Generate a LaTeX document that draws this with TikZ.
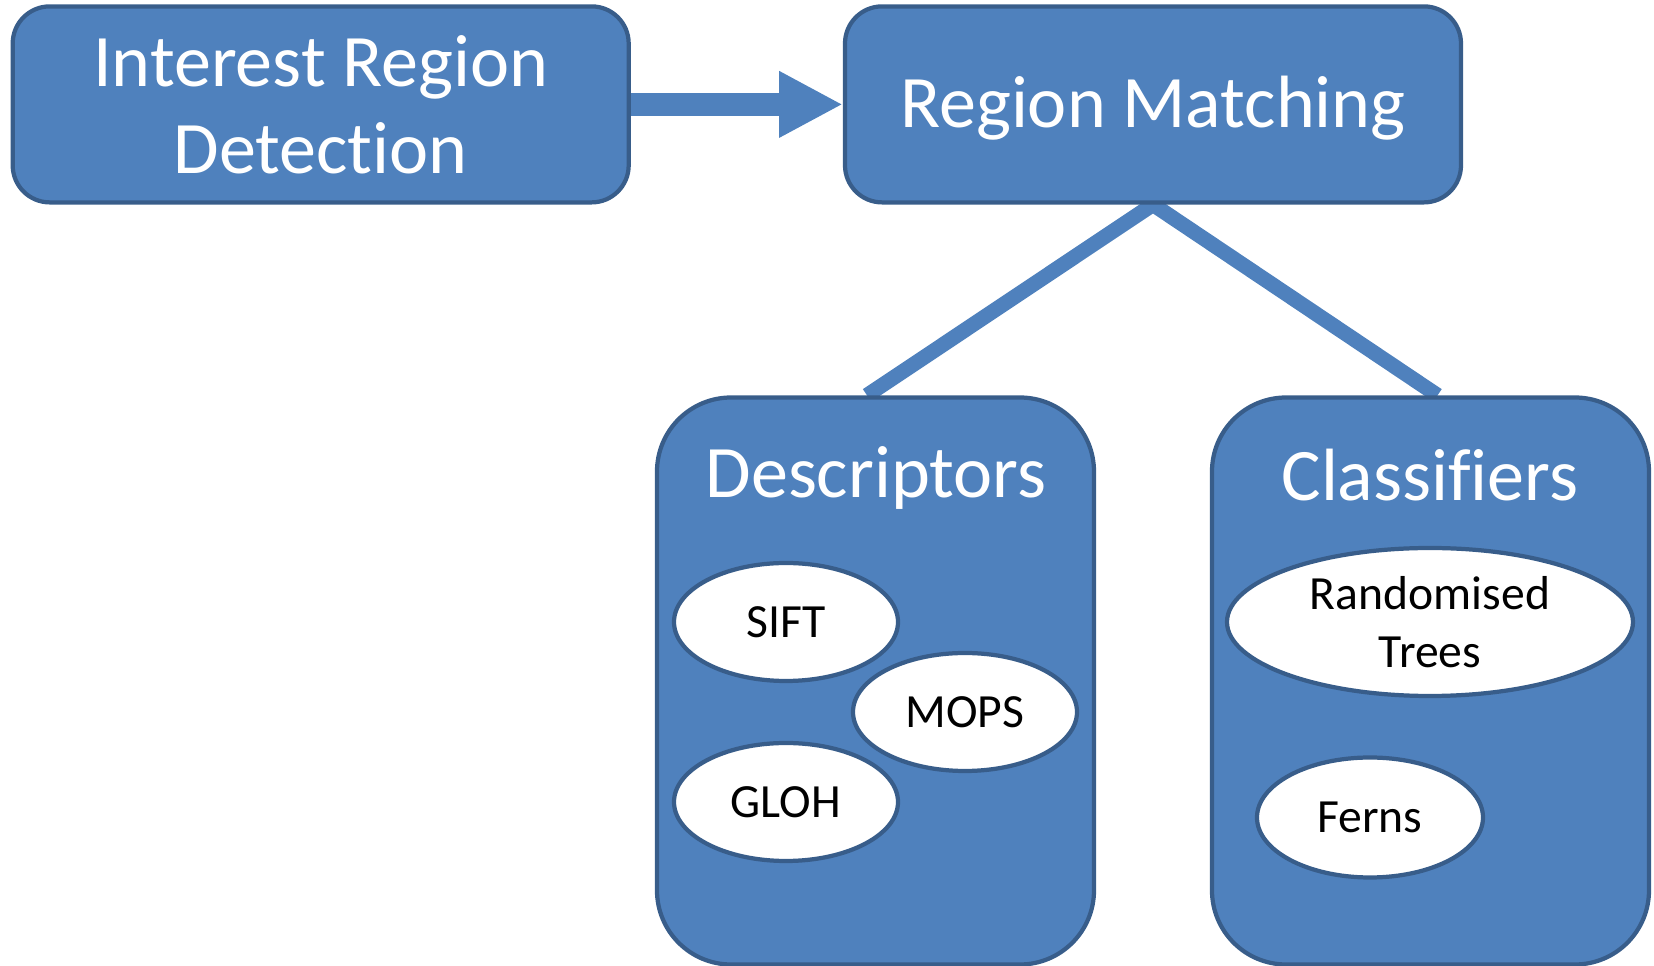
\documentclass[tikz,border=0pt]{standalone}
\usepackage{fontspec}
\setmainfont{Carlito}[Ligatures=NoCommon]
\usetikzlibrary{shapes.geometric,arrows.meta,backgrounds}
\definecolor{boxfill}{HTML}{4F81BD}
\definecolor{boxline}{HTML}{385D8A}
\def\pu{0.28346pt}
\begin{document}
\begin{tikzpicture}[x=0.28346pt,y=-0.28346pt,
  bigbox/.style={draw=boxline, fill=boxfill, line width=1.2pt, rounded corners=10.5pt},
  tallbox/.style={bigbox, rounded corners=21pt, minimum width=437*\pu, minimum height=567*\pu},
  title/.style={text=white, font=\fontsize{21}{24.7}\selectfont, align=center},
  oval/.style={ellipse, draw=boxline, fill=white, line width=1.2pt, inner sep=0pt,
    font=\fontsize{13.5}{16.4}\selectfont, align=center, minimum width=224*\pu, minimum height=118*\pu},
  link/.style={draw=boxfill, line width=4.25pt},
  bigarrow/.style={draw=boxfill, line width=6.5pt, -{Triangle[width=17.6pt,length=18.1pt]}}]
\useasboundingbox (0,0) rectangle (1654,966);
% top boxes
\node[bigbox, title, minimum width=616*\pu, minimum height=196*\pu] (ird) at (320.7,104.4) {Interest Region\\Detection};
\node[bigbox, minimum width=616*\pu, minimum height=196*\pu] (rm) at (1153,104.4) {};
\node[title] (rmt) at (1153,108.5) {Region Matching};
% lower boxes
\node[tallbox] (desc) at (875.5,681) {};
\node[title] (desct) at (876,478) {Descriptors};
\node[tallbox] (cls) at (1430.5,681) {};
\node[title] (clst) at (1430,475) {Classifiers};
% ovals
\node[oval] (sift) at (786,622) {SIFT};
\node[oval] (mops) at (965,712) {MOPS};
\node[oval] (gloh) at (786,802) {GLOH};
\node[oval, minimum width=406*\pu, minimum height=148*\pu] (rt) at (1430,622) {Randomised\\Trees};
\node[oval, minimum width=226*\pu, minimum height=120*\pu] (ferns) at (1370,817.5) {Ferns};
% connectors
\begin{scope}[on background layer]
\draw[bigarrow] (ird.east) -- (rm.west);
\draw[link] (rm.south) -- ([xshift=-2.4pt]desc.north);
\draw[link] (rm.south) -- ([xshift=2pt]cls.north);
\end{scope}
\end{tikzpicture}
\end{document}
